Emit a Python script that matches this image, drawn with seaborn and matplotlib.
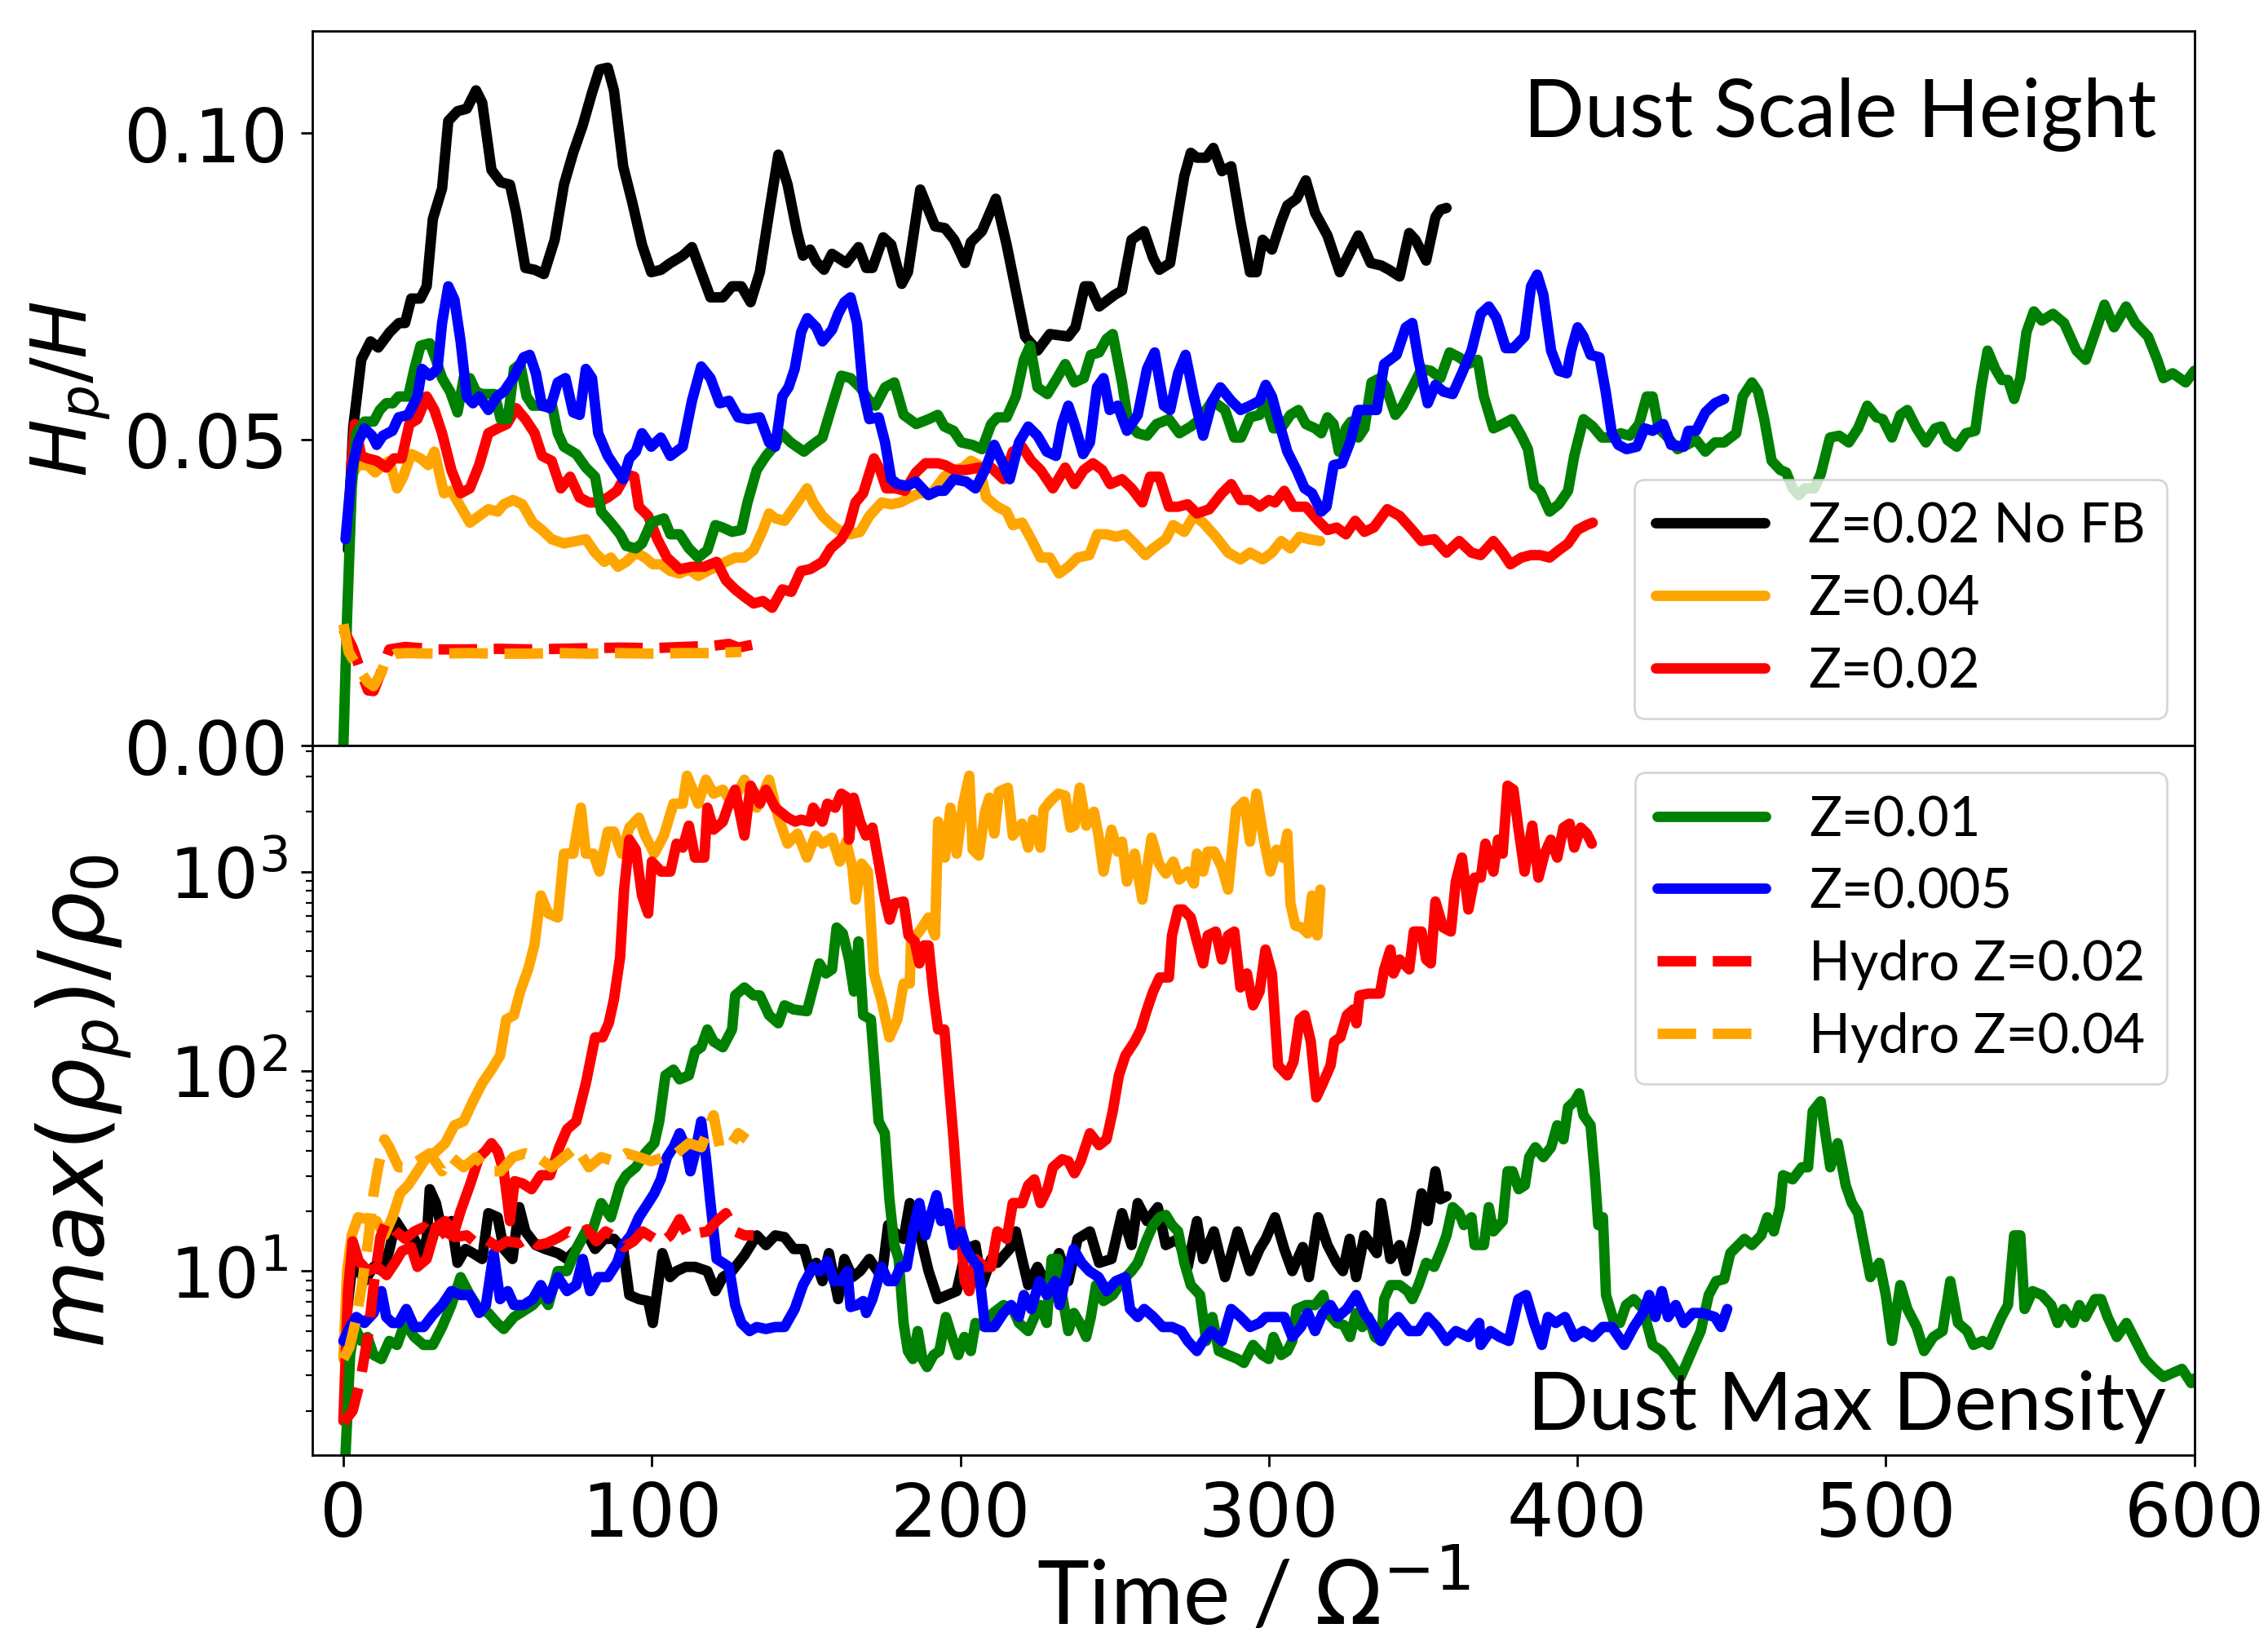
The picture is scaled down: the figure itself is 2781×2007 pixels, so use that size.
import numpy as np
import pandas as pd
import seaborn as sns
import matplotlib.pyplot as plt

# ---------------- data: (time, value) ----------------
# top panel: dust scale height H_p/H
h_nofb = [(1.5, 0.032), (2.2, 0.042), (3.2, 0.052), (5.8, 0.063), (8.8, 0.066), (11.3, 0.065), (15, 0.0675),
          (18, 0.069), (20, 0.069), (22, 0.073), (25, 0.073), (27, 0.075), (29, 0.086), (32, 0.091), (34, 0.102),
          (37, 0.1036), (40, 0.104), (43, 0.107), (45, 0.105), (48, 0.094), (51, 0.092), (54, 0.0916), (56, 0.087),
          (59, 0.078), (62, 0.0777), (65, 0.077), (68.5, 0.0826), (71.5, 0.0916), (74.5, 0.0968), (77.6, 0.1013),
          (80.6, 0.1066), (83, 0.1104), (85.7, 0.1107), (87.7, 0.107), (90.7, 0.0946), (93.7, 0.0886), (96.8, 0.0818),
          (99.8, 0.0773), (103, 0.0777), (106, 0.0788), (110, 0.080), (113, 0.0814), (116, 0.0773), (119, 0.0732),
          (123, 0.0732), (126, 0.075), (129, 0.075), (132, 0.0724), (135, 0.0773), (138, 0.087), (141, 0.0965),
          (144, 0.0916), (147, 0.084), (149, 0.080), (151.3, 0.081), (153.3, 0.079), (155.8, 0.0777), (158.4, 0.0803),
          (163, 0.0788), (167, 0.0814), (169.5, 0.078), (171.5, 0.078), (175, 0.083), (177.6, 0.0818), (181, 0.0754),
          (183, 0.0773), (187, 0.0908), (191.8, 0.0848), (195, 0.0845), (198, 0.0826), (201.5, 0.0788), (203.4, 0.0822),
          (207, 0.084), (211.5, 0.0893), (215, 0.0818), (218, 0.0743), (221, 0.0668), (225, 0.0645), (229, 0.0672),
          (235, 0.0668), (237.3, 0.0683), (240.3, 0.075), (242, 0.075), (245, 0.0717), (250, 0.0736), (252.4, 0.0743),
          (255.5, 0.0826), (259.5, 0.084), (262.5, 0.0796), (264.5, 0.0777), (268, 0.0788), (270.6, 0.087),
          (272.6, 0.093), (274.7, 0.0968), (276.7, 0.096), (279.7, 0.096), (282, 0.0976), (284.8, 0.0938),
          (287.8, 0.0946), (290.8, 0.0856), (293.9, 0.0773), (296, 0.0773), (298, 0.0826), (301, 0.081), (304, 0.0856),
          (306, 0.0882), (309, 0.0893), (312, 0.0923), (315, 0.087), (319, 0.0833), (323, 0.0773), (326, 0.0803),
          (329, 0.0833), (333, 0.0788), (336.4, 0.0784), (339, 0.0777), (342.4, 0.0766), (345.5, 0.0837),
          (347.5, 0.0826), (351, 0.0792), (354, 0.0863), (355.6, 0.0875), (357.6, 0.0878)]

h_z04 = [(2.5, 0.044), (4.75, 0.0458), (7.8, 0.0458), (10.3, 0.0446), (12.8, 0.0458), (14.9, 0.0465), (17.4, 0.042),
         (19.4, 0.0439), (22, 0.0476), (25, 0.0469), (27.5, 0.0458), (29.5, 0.048), (32.6, 0.0412), (35, 0.0416),
         (38, 0.039), (41, 0.0364), (44, 0.0375), (47, 0.0386), (50, 0.0382), (52, 0.0394), (55, 0.0401), (58, 0.0394),
         (61.4, 0.0364), (64.4, 0.0352), (67.5, 0.0337), (71.5, 0.033), (75.5, 0.0334), (78.6, 0.0337), (81.6, 0.0315),
         (84.6, 0.030), (86.7, 0.0307), (89, 0.0292), (91.7, 0.030), (94.8, 0.0315), (97.8, 0.0307), (100.3, 0.0296),
         (103, 0.0296), (106, 0.0285), (109, 0.0281), (112, 0.0288), (115, 0.0277), (118, 0.0285), (121, 0.0292),
         (124, 0.030), (127, 0.0307), (130, 0.0307), (133, 0.0319), (136, 0.0352), (138, 0.0379), (140, 0.0371),
         (143, 0.0367), (147.2, 0.0397), (150.3, 0.042), (152.3, 0.0397), (155.3, 0.0375), (158.4, 0.036),
         (161.4, 0.0349), (164.4, 0.0345), (167.5, 0.0349), (170.5, 0.0375), (174.5, 0.0397), (177.6, 0.0394),
         (180.6, 0.0397), (183.6, 0.0405), (186.7, 0.0412), (190.7, 0.0412), (194.8, 0.0439), (197.8, 0.045),
         (200.9, 0.0454), (203.4, 0.0465), (206, 0.0458), (208.4, 0.0405), (212, 0.039), (215, 0.0382), (217, 0.036),
         (220, 0.0364), (223, 0.0337), (226, 0.0307), (229, 0.0307), (232, 0.0281), (235, 0.0292), (238, 0.0307),
         (241.8, 0.0311), (244.4, 0.0345), (247.4, 0.0345), (250.5, 0.0341), (253.5, 0.0345), (256.5, 0.033),
         (260, 0.0311), (262.5, 0.0322), (266.6, 0.0337), (269, 0.036), (272.6, 0.0349), (275.7, 0.0375),
         (278.7, 0.0364), (282.8, 0.0341), (286.8, 0.0315), (290.8, 0.0304), (293.9, 0.0315), (298, 0.0304),
         (301, 0.0315), (304, 0.0334), (307, 0.0322), (310, 0.0341), (313, 0.0337), (316.6, 0.0334)]

h_z02 = [(2.5, 0.045), (3.7, 0.0525), (5.8, 0.0473), (7.8, 0.0469), (10.8, 0.0465), (13.9, 0.0454), (16.4, 0.0469),
         (18.9, 0.0469), (21.4, 0.0525), (24, 0.0533), (27, 0.057), (29.5, 0.0548), (32, 0.051), (35, 0.045),
         (38, 0.0412), (41, 0.042), (44, 0.0458), (47, 0.051), (50, 0.0518), (53, 0.0525), (56, 0.0551), (59, 0.0533),
         (62, 0.051), (64.4, 0.0473), (67.5, 0.0465), (70.5, 0.042), (73.5, 0.0439), (76.6, 0.0405), (79.6, 0.0397),
         (82.6, 0.0397), (85.7, 0.0405), (88.7, 0.0416), (91.7, 0.0443), (94.3, 0.0439), (95.8, 0.039), (98.8, 0.0375),
         (101.8, 0.0337), (104.9, 0.0307), (109, 0.0288), (113, 0.0292), (117, 0.0292), (121, 0.030), (124, 0.027),
         (127, 0.0255), (130, 0.0243), (133, 0.0232), (136, 0.0236), (139, 0.0225), (142.3, 0.0255), (145.2, 0.0251),
         (148.3, 0.0285), (151.3, 0.0288), (155.3, 0.030), (158, 0.0322), (161.4, 0.0337), (164, 0.036), (166, 0.0397),
         (168.5, 0.0412), (172, 0.0469), (174, 0.045), (176, 0.042), (179, 0.042), (182, 0.0416), (185.6, 0.0446),
         (188.7, 0.0461), (192.7, 0.0461), (195, 0.0458), (198, 0.045), (201.9, 0.045), (206, 0.0454), (210, 0.0454),
         (214, 0.0435), (217, 0.048), (220, 0.0488), (223, 0.0465), (226, 0.045), (230, 0.042), (234, 0.0454),
         (237, 0.0427), (240, 0.045), (243, 0.0461), (246, 0.045), (248.6, 0.0427), (252.4, 0.0435), (255.5, 0.042),
         (259, 0.0397), (261.5, 0.0439), (264.5, 0.0439), (267.6, 0.039), (270.6, 0.039), (273.7, 0.0394),
         (276.7, 0.0379), (280.7, 0.0386), (284.8, 0.0412), (287.8, 0.0427), (290.8, 0.0401), (293.9, 0.0401),
         (297, 0.039), (300, 0.0401), (302, 0.0397), (305, 0.0416), (308, 0.039), (312, 0.039), (316, 0.0367),
         (319, 0.0352), (322, 0.0356), (325, 0.0345), (328, 0.0367), (331, 0.0349), (334, 0.0356), (338.4, 0.0386),
         (342.4, 0.0375), (346.5, 0.0352), (349.5, 0.0334), (353.6, 0.0337), (357.6, 0.0315), (361.7, 0.0334),
         (365.7, 0.0315), (368.7, 0.0311), (372.8, 0.0334), (375.8, 0.0315), (378.3, 0.0296), (381.9, 0.0307),
         (384.9, 0.0311), (387.9, 0.0311), (391, 0.0307), (394, 0.0319), (397, 0.033), (400, 0.0352), (403, 0.036),
         (405, 0.0364)]

h_z01 = [(0, 0.0), (1.2, 0.021), (2.7, 0.042), (4.2, 0.051), (6.8, 0.0529), (9.8, 0.0529), (11.8, 0.0548),
         (13.9, 0.0559), (16, 0.0559), (17.9, 0.057), (21, 0.057), (23, 0.0615), (25, 0.0653), (28, 0.0657),
         (30, 0.063), (32, 0.060), (34.6, 0.0578), (37, 0.0544), (39, 0.060), (41, 0.060), (43, 0.0578), (45, 0.0574),
         (49, 0.0574), (51, 0.0533), (53.3, 0.0533), (55.3, 0.0615), (57.3, 0.0623), (59.4, 0.057), (61.4, 0.0555),
         (64.4, 0.0555), (67.5, 0.0559), (69.5, 0.051), (71.5, 0.0488), (75.5, 0.0476), (78.6, 0.0454), (81.6, 0.0439),
         (83.6, 0.0382), (86.7, 0.0364), (89.7, 0.0345), (91.7, 0.0326), (94.8, 0.0322), (96.8, 0.033), (99.8, 0.0364),
         (103.9, 0.0371), (106, 0.0345), (109, 0.0345), (112, 0.0322), (115, 0.0307), (118, 0.0319), (120.6, 0.036),
         (123, 0.0356), (126, 0.0349), (129, 0.0352), (131, 0.0397), (134, 0.045), (137, 0.0473), (140, 0.0491),
         (142, 0.051), (145, 0.0495), (149.3, 0.048), (152, 0.0491), (155.3, 0.0503), (158.4, 0.0555), (161.4, 0.0604),
         (164.4, 0.060), (167.5, 0.0585), (170.5, 0.0563), (172.5, 0.0555), (175.6, 0.0585), (178.6, 0.0593),
         (181.6, 0.054), (185.7, 0.0525), (189.7, 0.0533), (192.7, 0.054), (194.8, 0.0521), (197.8, 0.0514),
         (200.3, 0.0495), (203.9, 0.0491), (207, 0.0484), (210, 0.0525), (212, 0.0536), (215, 0.0536), (218, 0.057),
         (220.6, 0.063), (222.6, 0.0653), (225, 0.0585), (228.2, 0.0574), (231, 0.0597), (234, 0.0623), (237, 0.0593),
         (240, 0.060), (242.3, 0.0638), (245, 0.0642), (247.4, 0.0664), (249.4, 0.0672), (252.4, 0.0593),
         (254.5, 0.0525), (257.5, 0.051), (260.5, 0.0506), (263.6, 0.0525), (267.6, 0.0533), (271, 0.051),
         (274.7, 0.0521), (277.7, 0.0533), (281.7, 0.0563), (285.8, 0.0548), (288.8, 0.0503), (291, 0.0503),
         (293.9, 0.0536), (297, 0.054), (299, 0.0559), (301.5, 0.0518), (304, 0.0518), (307, 0.054), (309.6, 0.0548),
         (312, 0.0525), (315, 0.0518), (317, 0.051), (319, 0.0536), (321, 0.0525), (322.7, 0.048), (325, 0.0518),
         (326.6, 0.0529), (329, 0.0503), (331, 0.0518), (333.3, 0.0593), (336, 0.060), (338, 0.0585), (341, 0.054),
         (343.4, 0.0555), (346.5, 0.0585), (349.5, 0.0615), (352.5, 0.0612), (355.6, 0.060), (358.6, 0.0642),
         (361.7, 0.0634), (364.6, 0.0623), (367.7, 0.063), (369.7, 0.057), (372.8, 0.0518), (375.8, 0.0525),
         (378.8, 0.0533), (381.9, 0.0506), (384, 0.0484), (386, 0.0424), (388, 0.0416), (391, 0.0382), (394, 0.0394),
         (397, 0.0416), (399, 0.0473), (402, 0.0533), (405, 0.0521), (408, 0.0503), (411, 0.0503), (414, 0.051),
         (417, 0.0506), (420, 0.0525), (422.5, 0.057), (424.4, 0.057), (426.4, 0.0518), (429.4, 0.0503),
         (432.5, 0.0484), (435.5, 0.0491), (438.5, 0.0499), (441.5, 0.048), (444.6, 0.0495), (447.6, 0.0495),
         (451.5, 0.051), (453.6, 0.057), (456.6, 0.0593), (458.6, 0.0578), (460.6, 0.0533), (463, 0.0465),
         (465.8, 0.045), (467.7, 0.0446), (469.8, 0.042), (471.8, 0.0409), (473.8, 0.042), (476.8, 0.042),
         (478.9, 0.0443), (481.9, 0.0503), (484.9, 0.0506), (488, 0.0495), (491, 0.0518), (494, 0.0555), (497, 0.0536),
         (499, 0.0533), (502, 0.0503), (504.7, 0.054), (507, 0.0548), (510, 0.0518), (513, 0.0495), (516, 0.0518),
         (518, 0.0521), (520, 0.0499), (523, 0.0488), (526, 0.051), (529, 0.0514), (530.9, 0.0585), (533, 0.0645),
         (535.5, 0.0615), (537.6, 0.0597), (539.6, 0.0597), (541.6, 0.0566), (543.6, 0.060), (545.6, 0.0675),
         (548, 0.0709), (550.6, 0.0694), (554.2, 0.0705), (557.8, 0.069), (561.8, 0.0645), (564.8, 0.063),
         (567.9, 0.0675), (570.9, 0.072), (574, 0.0683), (577.9, 0.0717), (580.9, 0.069), (585, 0.0668), (588, 0.063),
         (590, 0.060), (593, 0.0608), (597.2, 0.0593), (600, 0.0612)]

h_z005 = [(0.7, 0.0337), (2.7, 0.045), (4.75, 0.0495), (6.8, 0.0518), (9.3, 0.0506), (10.8, 0.0491), (12.8, 0.0506),
          (15.9, 0.0514), (17.9, 0.0536), (21, 0.054), (24, 0.057), (25.5, 0.0615), (28, 0.0604), (30.5, 0.0615),
          (32, 0.069), (34, 0.075), (36, 0.0728), (38, 0.066), (40, 0.057), (42, 0.0559), (44, 0.057), (47, 0.0548),
          (49.8, 0.057), (52, 0.0578), (55, 0.060), (58.4, 0.0634), (60.4, 0.0638), (62.4, 0.0608), (64.4, 0.0555),
          (67, 0.0551), (69.5, 0.0593), (72, 0.060), (74.5, 0.0544), (76.6, 0.054), (78.6, 0.0615), (80.6, 0.060),
          (82.6, 0.051), (85.7, 0.0473), (88.7, 0.045), (90.7, 0.0435), (92.7, 0.0469), (94.8, 0.048), (96.8, 0.051),
          (99.8, 0.0488), (102.9, 0.0503), (106, 0.0473), (110, 0.0488), (113, 0.0563), (116, 0.0619), (119, 0.060),
          (122, 0.0559), (125, 0.0563), (128, 0.0536), (131, 0.0533), (135, 0.0536), (138, 0.0495), (140, 0.0488),
          (142.3, 0.057), (144.3, 0.0585), (146.3, 0.0615), (148.4, 0.0675), (150.4, 0.0698), (153.3, 0.0683),
          (155.3, 0.066), (158.4, 0.0679), (160.4, 0.0705), (162.4, 0.0724), (164.4, 0.0732), (166.5, 0.069),
          (168.5, 0.0578), (170.5, 0.0533), (173.5, 0.0536), (175.6, 0.0495), (177.6, 0.0435), (179.6, 0.0427),
          (182.6, 0.0424), (185.6, 0.0431), (189.7, 0.0409), (192.7, 0.0416), (194.8, 0.0416), (197.8, 0.0435),
          (201.9, 0.0431), (204.9, 0.042), (208, 0.045), (211, 0.0491), (214, 0.0458), (216, 0.0435), (219, 0.0495),
          (222, 0.0521), (225, 0.0506), (228, 0.048), (231, 0.0473), (233, 0.0525), (235, 0.0555), (237, 0.0525),
          (239.8, 0.0476), (242, 0.0495), (244.3, 0.0585), (246.4, 0.060), (248.4, 0.0548), (251, 0.0555),
          (254, 0.0514), (257.5, 0.054), (260.5, 0.0615), (263, 0.0642), (266, 0.0555), (268, 0.0548), (270.6, 0.0608),
          (273, 0.0638), (275.7, 0.057), (278.7, 0.0506), (281.7, 0.0563), (284.3, 0.0585), (287.8, 0.0563),
          (290.8, 0.0548), (293.9, 0.0555), (297, 0.0563), (299, 0.0589), (301, 0.057), (303, 0.0533), (306, 0.048),
          (309, 0.045), (311.6, 0.042), (314, 0.0412), (317, 0.0382), (318.7, 0.039), (321, 0.0458), (323.7, 0.0461),
          (326.3, 0.0495), (329, 0.0548), (332, 0.0548), (335, 0.0548), (337.4, 0.0623), (341.4, 0.0638),
          (344.4, 0.0683), (346.5, 0.069), (348.5, 0.063), (351.5, 0.0559), (354, 0.0589), (356.6, 0.0578),
          (359.6, 0.0574), (362.6, 0.0608), (365.7, 0.0645), (368.7, 0.0705), (371.3, 0.0717), (373.8, 0.0698),
          (376.8, 0.0649), (379.3, 0.0649), (382.9, 0.0668), (385, 0.075), (387, 0.0769), (389, 0.0736),
          (391.5, 0.0645), (394, 0.0612), (396.6, 0.0608), (398, 0.0645), (400.1, 0.0683), (402, 0.0668),
          (404.3, 0.0638), (407.2, 0.0634), (409.2, 0.0578), (411.2, 0.051), (413.3, 0.0491), (416, 0.0484),
          (419.3, 0.0488), (421.8, 0.0518), (424.4, 0.0514), (427.9, 0.0525), (430.4, 0.0491), (434.5, 0.0488),
          (436, 0.0514), (438.5, 0.0514), (441.5, 0.0544), (444.6, 0.0559), (447.6, 0.0566)]

h_hydro02 = [(0, 0.019), (3, 0.016), (5.8, 0.0119), (8, 0.009), (9.8, 0.0089), (12.8, 0.0127), (14.9, 0.0157),
             (20, 0.0161), (30, 0.0157), (40, 0.0157), (50, 0.0158), (60, 0.0157), (70, 0.0158), (80, 0.0159),
             (90, 0.016), (100, 0.0159), (110, 0.0161), (120, 0.0163), (125, 0.0166), (128, 0.016), (133, 0.0165)]

h_hydro04 = [(0, 0.0198), (1.7, 0.0153), (4.75, 0.0127), (7.8, 0.0104), (9.8, 0.0097), (12.3, 0.0119),
             (13.9, 0.0142), (16.9, 0.015), (21, 0.0151), (30, 0.015), (40, 0.0151), (50, 0.015), (60, 0.015),
             (70, 0.0151), (80, 0.015), (90, 0.0151), (100, 0.015), (110, 0.0151), (120, 0.0151), (129, 0.0153)]

# bottom panel: max(rho_p)/rho_0
d_nofb = [(1, 6.0), (2.5, 9.5), (4.75, 10.5), (6.8, 8.9), (9.8, 10.5), (12.8, 10), (15, 12.9), (17, 17.8), (20, 15.1),
          (23, 14.5), (25, 12.3), (27, 14.5), (28, 25.7), (30, 21.9), (32, 15.8), (35, 17.8), (37, 11.0), (39.6, 12.9),
          (42, 12.3), (45, 11.5), (47, 19.5), (50, 18.6), (52, 12.9), (54.8, 11.5), (57, 20.9), (59, 15.8), (62.4, 13.5),
          (65.4, 12.9), (69.5, 12.3), (72.5, 11.5), (75.5, 12.9), (78.6, 15.8), (81.6, 12.9), (84.6, 14.5), (87.7, 14.5),
          (90.7, 12.9), (92.7, 7.59), (95.8, 7.24), (98.8, 7.08), (100.3, 5.50), (103.4, 12.3), (105.9, 9.33), (108, 10),
          (111, 10.5), (114, 10.5), (118, 10), (120.6, 7.94), (123, 9.33), (126, 10), (130, 12.0), (134, 15.1),
          (137, 13.5), (140, 15.1), (143, 14.8), (146, 12.9), (149.3, 12.9), (151.3, 10), (153.3, 11.0), (155.3, 8.91),
          (157.4, 12.3), (160.4, 7.24), (162.4, 11.5), (165, 9.33), (167.5, 10), (170.5, 11.5), (174.5, 9.33),
          (176.6, 17.0), (179.6, 15.1), (181.6, 14.5), (183.6, 21.9), (185.6, 19.5), (187.7, 13.5), (189.7, 10),
          (192.7, 7.24), (195.8, 7.59), (198.8, 7.94), (201.9, 12.9), (204.9, 13.5), (207, 8.51), (210, 11.5),
          (212, 11.0), (216, 12.9), (218, 15.8), (220, 11.5), (222, 8.51), (225, 10.5), (228, 8.51), (232, 12.3),
          (235, 8.91), (238, 14.5), (242, 15.8), (245, 11.0), (249, 11.5), (252.4, 19.5), (255.5, 13.5), (257.5, 21.9),
          (260.5, 17.8), (264, 20.9), (266.6, 13.5), (270.6, 14.5), (273.7, 10.5), (276.7, 17.8), (278.7, 11.5),
          (282.2, 15.8), (285.8, 9.33), (289.9, 15.8), (293.9, 10), (297, 12.9), (299, 14.5), (302, 18.6), (305, 12.9),
          (307.6, 10), (311, 13.2), (313, 9.33), (316, 18.6), (319, 13.5), (322, 11.0), (324, 10), (326.2, 14.5),
          (328.3, 9.33), (331, 15.1), (335, 12.3), (336.4, 21.9), (339.4, 11.5), (342.4, 13.5), (344.5, 10),
          (347.5, 15.8), (349.5, 24.5), (351.5, 17.8), (354, 31.6), (355.6, 22.9), (357.6, 23.7)]

d_z04 = [(0, 3.63), (1.2, 10), (2.7, 15.1), (4.75, 18.6), (7.8, 18.2), (10.8, 17.8), (13.3, 15.1), (15.9, 18.6),
         (18.4, 24.5), (21, 26.9), (24, 31.6), (27, 37.2), (29.5, 38.9), (33, 43.7), (36, 53.7), (39, 56.2), (42, 70.8),
         (45, 87.1), (48, 102), (50.8, 120), (52.8, 182), (55.3, 191), (57.3, 251), (59.9, 324), (61.9, 427), (64, 759),
         (66.4, 617), (69.5, 589), (71.5, 1230), (74.5, 1230), (77, 2089), (78.6, 1230), (81, 1230), (83, 1000),
         (85.7, 1585), (87.7, 1585), (90.2, 1230), (92.7, 1660), (95.8, 1862), (97.8, 1514), (100.8, 1230),
         (103.9, 1514), (107, 2188), (110, 2188), (111.4, 3020), (115, 2188), (117.5, 2884), (120, 2455), (123, 2570),
         (126, 2188), (130, 2884), (134, 2089), (138, 2884), (141, 1862), (144, 1380), (147.2, 1549), (150.3, 1175),
         (153, 1514), (155.3, 1380), (158.4, 1479), (160.9, 1122), (163, 1413), (165, 1047), (166, 724), (168, 1096),
         (170, 1000), (172, 309), (174.5, 224), (177, 148), (179.6, 182), (181.6, 275), (183.6, 275), (184, 447),
         (186.7, 501), (189.7, 589), (191.8, 479), (192.8, 1778), (195, 1175), (196.8, 2089), (198.8, 1230),
         (200.9, 2188), (202.9, 3020), (204, 1288), (206, 1202), (208, 1995), (209.4, 2344), (211, 1549),
         (212.5, 2512), (215.4, 2630), (217, 1514), (220, 1738), (222, 1318), (223.6, 1820), (226, 1318), (227, 2042),
         (229, 2239), (231.7, 2455), (234, 2399), (235.7, 1660), (237, 1698), (238.7, 2630), (240.8, 1698),
         (243.3, 1995), (244.8, 1514), (246.4, 1000), (249, 1622), (251, 1259), (252.4, 1413), (254, 891),
         (256.5, 1230), (259, 724), (262, 1479), (264.4, 1096), (266.6, 977), (269, 1122), (271, 912), (273.7, 1000),
         (275.7, 871), (276.7, 1230), (278.7, 1000), (280.2, 1259), (282.3, 1259), (284.8, 1047), (286.8, 813),
         (289.4, 2042), (292, 2239), (293.9, 1413), (296, 2455), (298.4, 1445), (300.5, 1000), (302.5, 1288),
         (304.5, 1175), (306, 1549), (307, 692), (308.6, 537), (310.6, 525), (312.6, 490), (314, 759), (315.7, 479),
         (316.7, 813)]

d_z02 = [(0, 1.78), (1.5, 7.94), (3, 14.1), (5, 11.2), (8, 10), (11, 10.5), (14, 9.55), (17, 11.2), (19, 12.6),
         (22, 13.2), (24, 10.5), (27, 11.5), (30, 16.6), (33, 17.8), (36, 15.8), (38, 20), (41, 26.9), (44, 37.2),
         (46, 39.8), (48, 43.7), (50, 39.8), (52, 31.6), (54, 17.8), (55.5, 28.2), (58, 27.5), (61, 25.7), (64, 30.2),
         (67, 30.2), (70, 41.7), (72.5, 51.3), (75.5, 56.2), (78.6, 87.1), (81.6, 148), (84, 148), (86, 174),
         (87.7, 229), (89.7, 372), (91, 813), (92.7, 1445), (94.8, 1288), (96.8, 759), (98.8, 617), (100, 1122),
         (103, 1000), (106, 1000), (108, 1380), (110, 1318), (112, 1698), (114, 1175), (117, 1175), (118, 2089),
         (120, 1622), (123, 1778), (125, 2188), (127, 2570), (130, 1514), (132, 2692), (135, 2188), (137, 2570),
         (140, 2089), (144, 1862), (146.5, 1778), (148.3, 1820), (151.3, 1778), (152.3, 2089), (155.3, 1778),
         (156.9, 2188), (159.4, 2089), (161.4, 2455), (163.4, 2344), (163.9, 1445), (165.4, 2344), (167.5, 1778),
         (169.4, 1514), (171.5, 1660), (173.6, 1096), (175.6, 724), (177.1, 575), (178.6, 692), (181.6, 708),
         (183.2, 479), (185.2, 447), (186.7, 347), (188.2, 427), (189.7, 427), (191.2, 251), (192.8, 162),
         (194.8, 162), (195.8, 107), (197.8, 45.7), (199.3, 21.9), (200.3, 14.5), (201.4, 8.91), (202.9, 7.94),
         (204.9, 11.5), (208, 10.5), (210, 10.5), (212, 15.8), (215, 14.5), (217, 21.9), (220, 21.9), (222, 26.9),
         (224, 28.8), (226, 21.9), (228.2, 25.7), (230, 33.1), (233, 36.3), (235, 35.5), (237, 30.9), (239, 35.5),
         (242, 49.0), (245, 42.7), (247.4, 45.7), (249.4, 63.1), (251.4, 95.5), (253.5, 120), (256.5, 141),
         (258.5, 162), (260.5, 204), (262.5, 251), (264.6, 295), (267.6, 295), (268.6, 479), (270.6, 646),
         (272.2, 646), (274.7, 589), (276.7, 447), (278.7, 347), (280.2, 479), (282.8, 501), (284.8, 363),
         (286.8, 479), (288.8, 501), (290.8, 263), (292.9, 309), (294.9, 214), (297, 251), (298.9, 407), (301, 309),
         (303, 107), (306, 95.5), (308, 112), (310, 182), (311.6, 191), (313.6, 141), (315.4, 74.1), (317.5, 87.1),
         (320, 107), (321.2, 141), (323.2, 148), (325.3, 191), (327.4, 204), (328.4, 174), (329.4, 240), (332.3, 245),
         (336, 245), (337.4, 324), (339.4, 407), (340.4, 309), (342.4, 363), (345.5, 324), (347, 501), (349.5, 501),
         (351, 363), (352.5, 347), (354, 708), (356.5, 525), (359, 501), (360.6, 891), (362.6, 1175), (364.7, 646),
         (366.7, 933), (368.7, 933), (370.2, 1380), (372.8, 1000), (374.3, 1445), (375.8, 1230), (377.4, 2692),
         (379.3, 2570), (380.8, 1698), (382.9, 1000), (385.4, 1698), (387.4, 933), (389.4, 1230), (391.4, 1445),
         (393.5, 1175), (395.5, 1660), (397.5, 1738), (399, 1318), (401.1, 1660), (403.1, 1549), (404.7, 1380)]

d_z01 = [(0.3, 0.9), (2.2, 3.80), (3.7, 5.25), (5.8, 4.47), (7.8, 4.68), (9.8, 3.80), (12.3, 3.63), (14.9, 4.47),
         (17.4, 4.27), (19.9, 5.50), (23, 4.68), (26, 4.27), (29, 4.27), (32, 5.25), (35, 6.76), (38, 9.33), (41, 7.59),
         (44, 6.46), (47, 6.17), (49.8, 5.50), (52, 5.13), (55.3, 5.89), (58.4, 6.31), (61.4, 6.76), (64.4, 7.59),
         (66.4, 6.76), (69.5, 10), (72.5, 10), (75.5, 12.9), (78.6, 15.8), (80.6, 15.8), (83.6, 21.9), (86.7, 18.6),
         (89.7, 26.9), (91.7, 30.2), (94.8, 33.1), (97.8, 38.9), (100.8, 43.7), (102.4, 56.2), (104.4, 95.5),
         (107, 102), (109, 91.2), (112, 95.5), (114, 126), (116, 132), (118, 162), (120, 141), (123, 132), (126, 162),
         (127, 240), (130, 263), (133, 240), (135, 240), (138, 191), (141, 174), (143, 214), (146, 204), (150.3, 200),
         (152.3, 263), (154.3, 347), (156.4, 309), (158.4, 324), (159.9, 525), (161.9, 490), (163.9, 363),
         (165.5, 251), (167, 447), (168.5, 191), (171, 182), (173.5, 56.2), (175.5, 49.0), (177, 22.9), (178.6, 13.5),
         (180, 11.5), (181.6, 5.50), (183, 3.98), (184.6, 3.63), (186.2, 5.01), (187.7, 3.63), (189.2, 3.31),
         (191.3, 3.80), (193.2, 3.98), (195.3, 5.89), (197.3, 4.68), (199.3, 3.80), (201.3, 4.68), (203.4, 3.98),
         (204.9, 5.50), (208, 5.25), (210.6, 6.17), (214, 6.76), (217, 6.46), (219, 5.50), (222, 5.01), (224, 5.89),
         (226, 6.76), (228, 5.50), (229.6, 11.5), (231.7, 11.5), (233, 7.59), (235, 5.01), (236.8, 6.17),
         (238.7, 5.50), (240.8, 4.68), (242.3, 5.89), (244, 8.51), (246.4, 7.08), (249.4, 7.59), (252.4, 8.91),
         (255.5, 10), (257.5, 11.0), (260.5, 14.5), (262.5, 17.0), (264.6, 18.6), (266.6, 19.1), (268.6, 17.0),
         (270.6, 15.8), (272.6, 11.0), (274.7, 8.51), (277.7, 7.59), (279.7, 4.47), (281.7, 5.89), (283.8, 3.98),
         (286.8, 3.80), (289.9, 3.63), (291.9, 3.47), (294.9, 4.27), (297.9, 3.80), (300, 3.63), (301.5, 4.68),
         (304, 3.80), (306, 3.98), (307.6, 4.47), (309, 6.46), (312, 6.76), (315, 6.76), (317.6, 7.59), (319, 6.17),
         (322, 5.50), (324.3, 5.37), (326.3, 4.68), (328.3, 6.17), (330.3, 5.25), (332.3, 5.89), (334.4, 4.68),
         (336.4, 4.47), (337.4, 7.24), (339.4, 8.51), (342.4, 8.51), (345, 7.94), (346.5, 7.24), (348.5, 8.51),
         (351, 11.0), (353.6, 10.5), (356, 12.9), (357.6, 15.1), (359.6, 20.9), (361.7, 19.5), (363.2, 17.0),
         (365.7, 18.6), (366.7, 13.5), (369.7, 13.5), (371.3, 20.9), (372.8, 15.8), (375.8, 17.8), (377.4, 31.6),
         (379, 31.6), (381, 25.7), (383, 26.9), (384.4, 37.2), (386.4, 41.7), (389, 37.2), (391.5, 41.7),
         (393.5, 53.7), (395.5, 45.7), (397, 66.1), (399.1, 70.8), (400.6, 77.6), (402, 60.3), (404.3, 53.7),
         (405.7, 30.2), (406.8, 17.0), (408.3, 18.6), (409.3, 7.59), (411.8, 5.62), (413.8, 5.50), (415.8, 6.76),
         (418.3, 7.24), (421.3, 6.46), (424.4, 4.27), (427.4, 3.98), (429.4, 3.63), (431.5, 3.24), (433.5, 2.95),
         (435.5, 3.47), (438, 4.27), (440, 5.01), (442.6, 7.59), (445, 8.91), (447.6, 9.12), (449.6, 12.3),
         (452.2, 13.5), (454.2, 14.5), (456.6, 13.5), (459.6, 15.1), (461.6, 18.6), (463.7, 15.8), (465.7, 20.9),
         (466.7, 30.2), (469.8, 28.8), (472.8, 33.1), (474.8, 33.1), (476.3, 63.1), (478.9, 70.8), (480, 53.7),
         (482, 33.1), (484.4, 43.7), (487, 26.9), (489, 21.9), (491, 19.5), (495, 9.33), (497.9, 11.0), (500, 7.59),
         (502, 4.47), (504.7, 8.51), (507, 6.46), (510, 5.25), (512.4, 3.98), (515.4, 4.68), (518.4, 5.01),
         (520.9, 8.91), (523.4, 5.50), (526.4, 5.01), (528.4, 4.27), (531.4, 4.47), (533.5, 4.27), (535.5, 5.01),
         (537.5, 5.89), (539.6, 6.76), (541.6, 15.1), (543.6, 15.1), (545, 6.46), (547.6, 7.94), (550.6, 7.59),
         (553.6, 6.76), (555.7, 5.50), (557.7, 6.46), (560.7, 5.50), (562.7, 6.76), (564.7, 5.89), (567.8, 7.24),
         (569.8, 7.24), (571.9, 5.89), (574.9, 4.68), (578, 5.50), (581, 4.47), (584, 3.63), (587, 3.24), (590, 2.95),
         (593, 3.09), (596, 3.24), (599, 2.75), (600, 2.9)]

d_z005 = [(0, 4.47), (2.2, 5.25), (4.2, 5.89), (6.8, 5.50), (9.8, 6.17), (12.3, 7.94), (13.9, 5.89), (15.9, 5.50),
          (17.9, 5.50), (20.4, 6.46), (23, 5.25), (26, 5.25), (29, 6.03), (32, 6.76), (35, 7.94), (38, 7.59),
          (41, 7.59), (44, 6.17), (46.2, 6.76), (48.7, 12.3), (50.8, 7.24), (53.3, 7.94), (55.3, 6.76), (58.4, 6.76),
          (61.4, 7.24), (64, 8.51), (66.4, 7.24), (69.5, 9.33), (72.5, 7.94), (75.5, 8.51), (77.6, 11.5), (80, 7.94),
          (82.6, 9.33), (85.7, 9.33), (88.7, 11.0), (90.7, 13.5), (93.2, 15.1), (95.8, 18.6), (98.8, 21.9),
          (100.8, 24.5), (102.9, 28.8), (104.9, 37.2), (107, 41.7), (109, 49.0), (111, 41.7), (112.5, 31.6),
          (114, 38.9), (116, 56.2), (117.5, 37.2), (119, 21.9), (121, 11.5), (123, 11.0), (125, 10.5), (127, 6.76),
          (129, 5.50), (131.7, 5.01), (134, 5.25), (137, 5.13), (140, 5.25), (143, 5.25), (146.3, 6.46), (149, 8.51),
          (152.3, 10.5), (154.3, 10), (156.9, 11.2), (159, 8.91), (161.4, 8.91), (163.4, 10), (164.4, 6.61),
          (166.5, 6.76), (168.5, 7.08), (169.5, 6.17), (171.5, 7.24), (174.5, 10.5), (176.6, 8.91), (178.6, 8.91),
          (180.6, 10.5), (182.6, 10.5), (184.6, 15.8), (186.7, 21.9), (188.7, 15.1), (190.2, 18.6), (192.3, 24.0),
          (193.8, 17.8), (195.8, 19.5), (197.8, 13.5), (200.3, 15.8), (201.9, 12.9), (203.9, 11.5), (205.9, 10.5),
          (208, 5.25), (211, 5.25), (214, 6.17), (216.5, 6.76), (219, 5.89), (220.6, 7.59), (223, 6.46),
          (225.6, 8.91), (228, 7.59), (230.7, 8.91), (232.2, 6.76), (234.2, 9.33), (236.7, 12.9), (239.3, 11.0),
          (241.8, 10), (244.8, 9.33), (247.4, 7.94), (250.4, 8.91), (253.5, 9.33), (255, 6.46), (257.5, 5.89),
          (259.6, 6.46), (262.6, 5.89), (265.6, 5.25), (268.6, 5.25), (271.6, 5.01), (273.7, 4.47), (276.7, 3.98),
          (278.7, 4.47), (281.3, 5.01), (284.8, 4.47), (287.8, 6.46), (290.8, 5.89), (293.9, 5.25), (297, 5.50),
          (299, 5.89), (302, 5.89), (305, 5.89), (307.6, 4.68), (310.4, 5.25), (312.6, 6.17), (315, 5.01),
          (317.5, 6.17), (320, 6.76), (322.3, 5.89), (325.3, 6.46), (328.3, 7.59), (331, 6.17), (333.3, 5.50),
          (336.4, 4.47), (339, 5.25), (342, 5.89), (345.5, 5.01), (348.5, 5.01), (351.5, 5.89), (354.5, 5.25),
          (357.6, 4.47), (360.6, 5.01), (364.7, 4.68), (368.2, 5.50), (368.7, 4.27), (371.8, 5.01), (374.8, 4.68),
          (377.8, 4.47), (380.9, 7.24), (383.4, 7.59), (386, 5.50), (388.5, 4.27), (390.5, 5.89), (393, 5.50),
          (396, 5.89), (399, 4.68), (402, 5.01), (405, 4.68), (408.2, 5.25), (411.2, 5.25), (415.2, 4.27),
          (418.3, 5.25), (421.3, 6.17), (423.3, 7.59), (425.3, 5.89), (427.4, 7.94), (429.4, 5.89), (431.9, 6.76),
          (434.5, 5.50), (437.5, 6.17), (440.5, 6.17), (444.6, 5.89), (446.6, 5.25), (448.6, 6.46)]

d_hydro02 = [(0, 1.74), (3, 2.0), (5.5, 2.82), (8, 4.79), (10, 8.91), (12, 14.8), (14, 17.8), (17, 15.8), (20, 14.5),
             (23, 15.8), (26, 16.6), (30, 14.8), (33, 15.8), (36, 14.8), (40, 15.1), (43, 13.8), (46, 14.5),
             (50, 13.2), (53, 14.1), (57, 13.8), (60, 14.8), (63, 13.5), (66, 13.8), (70, 14.8), (73, 15.8),
             (76, 15.1), (79, 16.2), (82, 14.1), (85, 15.8), (88, 14.8), (91, 13.2), (94, 14.1), (97, 15.8),
             (100, 14.8), (103, 13.8), (106, 15.1), (109, 18.2), (112, 14.8), (115, 15.5), (118, 15.8), (121, 17.8),
             (124, 19.5), (127, 15.8), (130, 15.1), (133, 15.1)]

d_hydro04 = [(0, 3.63), (2, 4.17), (4, 5.62), (6, 8.51), (8, 14.1), (9.8, 24.5), (11.3, 33.1), (13.3, 45.7),
             (14.9, 41.7), (17.9, 33.1), (21, 33.1), (24, 35.5), (28, 38.9), (32, 31.6), (35, 37.2), (39, 33.1),
             (43, 37.2), (47, 31.6), (51, 31.6), (55, 37.2), (59, 38.9), (63, 37.2), (67.5, 33.1), (71.5, 37.2),
             (75.5, 41.7), (79.6, 33.1), (83.6, 37.2), (87.7, 35.5), (91.7, 38.9), (95.8, 37.2), (99.8, 35.5),
             (104, 37.2), (108, 38.9), (112, 43.7), (116, 41.7), (120, 60.3), (122, 41.7), (125, 41.7), (128, 49.0),
             (130.7, 45.7)]

labels = ['Z=0.02 No FB', 'Z=0.04', 'Z=0.02', 'Z=0.01', 'Z=0.005', 'Hydro Z=0.02', 'Hydro Z=0.04']
colors = ['black', 'orange', 'red', 'green', 'blue', 'red', 'orange']

# ---------------- style ----------------
sns.set_theme(style="ticks")
plt.rcParams['font.family'] = ['DejaVu Sans']
plt.rcParams['mathtext.fontset'] = 'dejavusans'
plt.rcParams['axes.linewidth'] = 1.0
plt.rcParams['axes.edgecolor'] = 'black'
plt.rcParams['text.color'] = 'black'
plt.rcParams['axes.labelcolor'] = 'black'
plt.rcParams['xtick.color'] = 'black'
plt.rcParams['ytick.color'] = 'black'

LW = 4.6
styles = ['-', '-', '-', '-', '-', '--', '--']

fig = plt.figure(figsize=(13.905, 10.04), dpi=200)
ax1 = fig.add_axes([0.1378, 0.5443, 0.8297, 0.4363])
ax2 = fig.add_axes([0.1378, 0.1111, 0.8297, 0.4332], sharex=ax1)

top = [h_nofb, h_z04, h_z02, h_z01, h_z005, h_hydro02, h_hydro04]
bot = [d_nofb, d_z04, d_z02, d_z01, d_z005, d_hydro02, d_hydro04]

for ax, group in [(ax1, top), (ax2, bot)]:
    for pts, c, ls, lab in zip(group, colors, styles, labels):
        df = pd.DataFrame(pts, columns=['t', 'val'])
        sns.lineplot(data=df, x='t', y='val', ax=ax, color=c, linestyle=ls, linewidth=LW,
                     label=lab, errorbar=None, legend=False)

ax2.set_yscale('log')
ax1.set_xlim(-10, 600)
ax1.set_ylim(0, 0.1167)
ax2.set_ylim(1.2, 4276)
ax1.set_yticks([0.0, 0.05, 0.10])
ax2.set_xticks([0, 100, 200, 300, 400, 500, 600])

for ax in (ax1, ax2):
    ax.tick_params(which='major', direction='out', length=5, width=1.0, labelsize=32.5, pad=6)
    ax.tick_params(which='minor', direction='out', length=3, width=0.8)
    for s in ax.spines.values():
        s.set_visible(True)
        s.set_color('black')
ax2.tick_params(axis='y', which='major', labelsize=31)
ax1.tick_params(labelbottom=False)

ax1.set_xlabel('')
ax1.set_ylabel(r'$H_p/H$', fontsize=34)
ax2.set_ylabel(r'$max(\rho_p)/\rho_0$', fontsize=40)
ax2.set_xlabel(r'Time / $\Omega^{-1}$', fontsize=39, family='Lato', labelpad=0)
ax1.yaxis.set_label_coords(-0.106, 0.5)
ax2.yaxis.set_label_coords(-0.095, 0.5)

ax1.text(0.98, 0.853, 'Dust Scale Height', transform=ax1.transAxes, ha='right', va='baseline',
         fontsize=35.5, family='Lato')
ax2.text(0.985, 0.037, 'Dust Max Density', transform=ax2.transAxes, ha='right', va='baseline',
         fontsize=35.5, family='Lato')

leg_font = {'family': 'Lato', 'size': 24}
lines1 = ax1.get_lines()
lines2 = ax2.get_lines()
ax1.legend(handles=lines1[:3], labels=labels[:3], loc='lower right', prop=leg_font, handlelength=2.0,
           labelspacing=0.4, framealpha=0.8, edgecolor='0.8', fancybox=True)
ax2.legend(handles=lines2[3:7], labels=labels[3:], loc='upper right', prop=leg_font, handlelength=2.0,
           labelspacing=0.4, framealpha=0.8, edgecolor='0.8', fancybox=True)

fig.savefig('out.png', dpi=200)
